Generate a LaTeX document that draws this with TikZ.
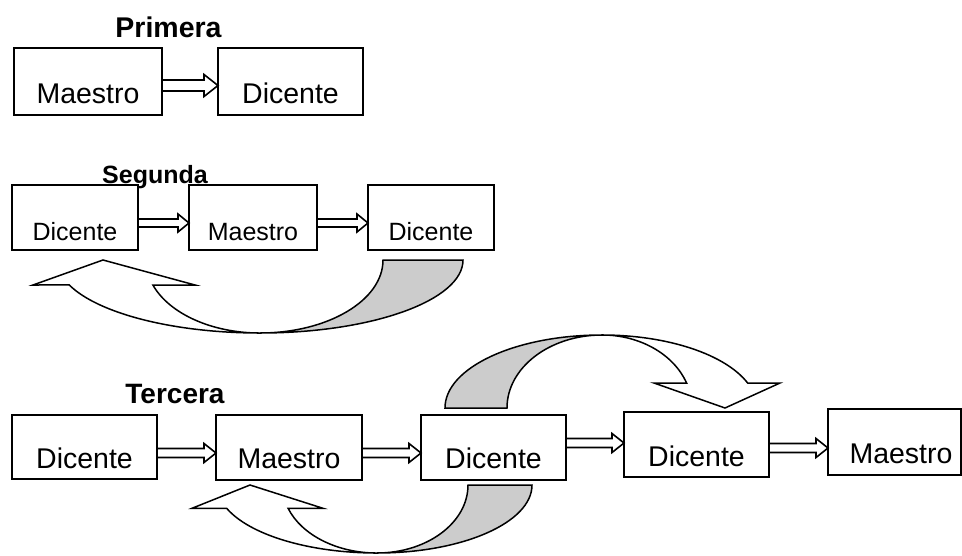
\documentclass[tikz,border=0pt]{standalone}
\usepackage{fontspec}
\setmainfont{Liberation Sans}
\usetikzlibrary{calc}
\newcommand\blockarr[6]{\draw[blk] ($(#1.east|-#3)+(0,-#4)$) -- ($(#2.west|-#3)+(-#6,-#4)$) -- ($(#2.west|-#3)+(-#6,-#5)$) -- (#2.west|-#3) -- ($(#2.west|-#3)+(-#6,#5)$) -- ($(#2.west|-#3)+(-#6,#4)$) -- ($(#1.east|-#3)+(0,#4)$) -- cycle;}
\begin{document}
\begin{tikzpicture}[x=1pt,y=-1pt,
  box/.style={draw, fill=white, line width=1.8pt, inner sep=0pt, outer sep=0pt, anchor=south west, font=\fontsize{28.5}{34}\selectfont},
  sbox/.style={box, font=\fontsize{25}{30}\selectfont},
  blk/.style={draw, fill=white, line width=1.6pt, line join=miter},
  front/.style={draw, fill=white, line width=1.5pt, line join=miter},
  back/.style={draw, fill=black!20, line width=1.5pt, line join=miter},
  ttl/.style={font=\bfseries\fontsize{28.5}{34}\selectfont, anchor=base, inner sep=0pt}]
\useasboundingbox (0,0) rectangle (962,555);

% titles
\node[ttl] (t1) at (168.5,37) {Primera};
\node[ttl, font=\bfseries\fontsize{25}{30}\selectfont] (t2) at (155,183) {Segunda};
\node[ttl, font=\bfseries\fontsize{28}{34}\selectfont] (t3) at (175,403) {Tercera};

% Primera
\node[box, minimum width=148pt, text height=55pt, text depth=12pt] (P1) at (14,115) {Maestro};
\node[box, minimum width=145pt, text height=55pt, text depth=12pt] (P2) at (218,115) {Dicente};

% Segunda
\node[sbox, minimum width=126pt, text height=55pt, text depth=10pt] (S1) at (12,250) {Dicente};
\node[sbox, minimum width=128pt, text height=55pt, text depth=10pt] (S2) at (189,250) {Maestro};
\node[sbox, minimum width=126pt, text height=55pt, text depth=10pt] (S3) at (368,250) {Dicente};

% Tercera
\node[box, minimum width=145pt, text height=53pt, text depth=11pt] (T1) at (12,479) {Dicente};
\node[box, minimum width=146pt, text height=53pt, text depth=12pt] (T2) at (216,480) {Maestro};
\node[box, minimum width=145pt, text height=53pt, text depth=12pt] (T3) at (421,480) {Dicente};
\node[box, minimum width=145pt, text height=54pt, text depth=11pt] (T4) at (624,477) {Dicente};
\node[box, minimum width=133pt, text height=54pt, text depth=12pt] (T5) at (828,475) {\hspace*{13pt}Maestro};

% y levels of the block arrows
\coordinate (yP) at (0,85.5);
\coordinate (yS) at (0,223);
\coordinate (yT) at (0,453);
\coordinate (yT3) at (0,443);
\coordinate (yT4) at (0,448);

\blockarr{P1}{P2}{yP}{5.5}{11}{14}
\blockarr{S1}{S2}{yS}{4}{9}{11}
\blockarr{S2}{S3}{yS}{4}{9}{11}
\blockarr{T1}{T2}{yT}{4.5}{9.5}{12}
\blockarr{T2}{T3}{yT}{4.5}{9.5}{12}
\blockarr{T3}{T4}{yT3}{4.5}{9.5}{12}
\blockarr{T4}{T5}{yT4}{4.5}{9.5}{12}

% Segunda curved arrow (S3 back to S1)
\coordinate (c1) at (260,260);
\path[back] ($(c1)+(203,0)$) arc[start angle=0,end angle=-90,x radius=203pt,y radius=73pt]
  arc[start angle=-90,end angle=0,x radius=123pt,y radius=73pt] -- cycle;
\path[front] ($(c1)+(0,73)$) arc[start angle=-90,end angle=-160,x radius=203pt,y radius=73pt]
  -- ($(c1)+(-227,25)$) -- ($(c1)+(-157,0)$) -- ($(c1)+(-65,25)$) -- ($(c1)+(-107.1,25)$)
  arc[start angle=-160,end angle=-90,x radius=114pt,y radius=73pt] -- cycle;

% Tercera upper curved arrow (T3 to T4)
\coordinate (c2) at (602,408);
\path[back] ($(c2)+(-157,0)$) arc[start angle=180,end angle=90,x radius=157pt,y radius=73pt]
  arc[start angle=90,end angle=180,x radius=95pt,y radius=73pt] -- cycle;
\path[front] ($(c2)+(0,-73)$) arc[start angle=90,end angle=20,x radius=155pt,y radius=73pt]
  -- ($(c2)+(178,-25)$) -- ($(c2)+(123,0)$) -- ($(c2)+(52,-25)$) -- ($(c2)+(84.6,-25)$)
  arc[start angle=20,end angle=90,x radius=90pt,y radius=73pt] -- cycle;

% Tercera lower curved arrow (T3 back to T2)
\coordinate (c3) at (377,485);
\path[back] ($(c3)+(155,0)$) arc[start angle=0,end angle=-90,x radius=155pt,y radius=68pt]
  arc[start angle=-90,end angle=0,x radius=91pt,y radius=68pt] -- cycle;
\path[front] ($(c3)+(0,68)$) arc[start angle=-90,end angle=-160,x radius=160pt,y radius=68pt]
  -- ($(c3)+(-185,23.3)$) -- ($(c3)+(-127,0)$) -- ($(c3)+(-54,23.3)$) -- ($(c3)+(-88.9,23.3)$)
  arc[start angle=-160,end angle=-90,x radius=94.6pt,y radius=68pt] -- cycle;
\end{tikzpicture}
\end{document}
